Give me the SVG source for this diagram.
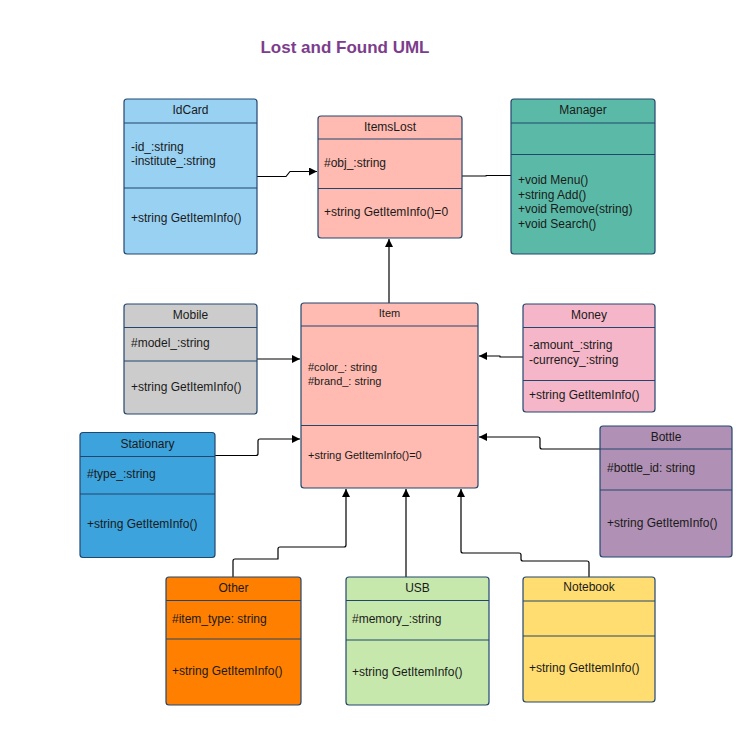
<svg xmlns="http://www.w3.org/2000/svg" width="756" height="743" viewBox="0 0 756 743">
<style>
.box{stroke:#23466f;stroke-width:1.2}
.div{stroke:#23466f;stroke-width:1.2}
text{font-family:"Liberation Sans",Arial,sans-serif;font-size:12px;fill:#1a1a1a}
.h{text-anchor:middle}
.s{font-size:11px}
.title{font-size:17px;font-weight:bold;fill:#7c3d8c;text-anchor:middle}
.c{fill:none;stroke:#000;stroke-width:1.2;stroke-linejoin:round}
</style>
<defs>
<marker id="arr" viewBox="0 0 10 10" refX="10" refY="5" markerWidth="10" markerHeight="8" markerUnits="userSpaceOnUse" orient="auto">
<path d="M0,0 L10,5 L0,10 Z" fill="#000"/>
</marker>
</defs>
<rect width="756" height="743" fill="#fff"/>
<text class="title" x="345" y="53">Lost and Found UML</text>

<g id="connectors">
<path class="c" d="M257,176.5 H286 L290,171.5 H317" marker-end="url(#arr)"/>
<path class="c" d="M462,176 H486 V175.5 H511"/>
<path class="c" d="M389,303 V239" marker-end="url(#arr)"/>
<path class="c" d="M257,359 H300" marker-end="url(#arr)"/>
<path class="c" d="M523,357 H500 V356 H479" marker-end="url(#arr)"/>
<path class="c" d="M600,449 H542 Q540,449 540,447 V439 Q540,437 538,437 H479" marker-end="url(#arr)"/>
<path class="c" d="M215,455.5 H256 Q258,455.5 258,453.5 V441 Q258,439 260,439 H300" marker-end="url(#arr)"/>
<path class="c" d="M233,577 V561 Q233,559 235,559 H278 V549 Q278,547 280,547 H344 Q346,547 346,545 V489" marker-end="url(#arr)"/>
<path class="c" d="M406,577 V489" marker-end="url(#arr)"/>
<path class="c" d="M589,577 V563 Q589,561 587,561 H523 Q521,561 521,559 V555 Q521,553 519,553 H463 Q461,553 461,551 V489" marker-end="url(#arr)"/>
</g>

<g id="IdCard">
<rect class="box" x="124" y="99" width="133" height="155" rx="3" fill="#99d1f3"/>
<line class="div" x1="124" y1="123" x2="257" y2="123"/>
<line class="div" x1="124" y1="188" x2="257" y2="188"/>
<text class="h" x="190.5" y="114">IdCard</text>
<text x="131" y="151">-id_:string</text>
<text x="131" y="165">-institute_:string</text>
<text x="131" y="222">+string GetItemInfo()</text>
</g>

<g id="ItemsLost">
<rect class="box" x="318" y="116" width="144" height="122" rx="3" fill="#ffbbb1"/>
<line class="div" x1="318" y1="139" x2="462" y2="139"/>
<line class="div" x1="318" y1="188.5" x2="462" y2="188.5"/>
<text class="h" x="390" y="131">ItemsLost</text>
<text x="324" y="167">#obj_:string</text>
<text x="324" y="216">+string GetItemInfo()=0</text>
</g>

<g id="Manager">
<rect class="box" x="511" y="99" width="144" height="155" rx="3" fill="#5bbaa7"/>
<line class="div" x1="511" y1="123" x2="655" y2="123"/>
<line class="div" x1="511" y1="154.5" x2="655" y2="154.5"/>
<text class="h" x="583" y="114">Manager</text>
<text x="518" y="184">+void Menu()</text>
<text x="518" y="198.5">+string Add()</text>
<text x="518" y="213">+void Remove(string)</text>
<text x="518" y="227.5">+void Search()</text>
</g>

<g id="Mobile">
<rect class="box" x="124" y="304" width="133" height="110" rx="3" fill="#cccccc"/>
<line class="div" x1="124" y1="327.5" x2="257" y2="327.5"/>
<line class="div" x1="124" y1="361" x2="257" y2="361"/>
<text class="h" x="190.5" y="319">Mobile</text>
<text x="131" y="347">#model_:string</text>
<text x="131" y="391">+string GetItemInfo()</text>
</g>

<g id="Item">
<rect class="box" x="301" y="303" width="177" height="185" rx="3" fill="#ffbbb1"/>
<line class="div" x1="301" y1="326" x2="478" y2="326"/>
<line class="div" x1="301" y1="425.5" x2="478" y2="425.5"/>
<text class="h s" x="389.5" y="317">Item</text>
<text class="s" x="308" y="371">#color_: string</text>
<text class="s" x="308" y="385">#brand_: string</text>
<text class="s" x="308" y="459">+string GetItemInfo()=0</text>
</g>

<g id="Money">
<rect class="box" x="523" y="304" width="132" height="108" rx="3" fill="#f4b6c8"/>
<line class="div" x1="523" y1="327.5" x2="655" y2="327.5"/>
<line class="div" x1="523" y1="380.5" x2="655" y2="380.5"/>
<text class="h" x="589" y="319">Money</text>
<text x="529" y="349">-amount_:string</text>
<text x="529" y="363.5">-currency_:string</text>
<text x="529" y="399">+string GetItemInfo()</text>
</g>

<g id="Bottle">
<rect class="box" x="600" y="426" width="132" height="131" rx="3" fill="#b090b4"/>
<line class="div" x1="600" y1="449" x2="732" y2="449"/>
<line class="div" x1="600" y1="490" x2="732" y2="490"/>
<text class="h" x="666" y="441">Bottle</text>
<text x="607" y="472">#bottle_id: string</text>
<text x="607" y="527">+string GetItemInfo()</text>
</g>

<g id="Stationary">
<rect class="box" x="80" y="432.5" width="135" height="125" rx="3" fill="#3ca3dc"/>
<line class="div" x1="80" y1="456.5" x2="215" y2="456.5"/>
<line class="div" x1="80" y1="494" x2="215" y2="494"/>
<text class="h" x="147.5" y="448">Stationary</text>
<text x="87" y="478">#type_:string</text>
<text x="87" y="528">+string GetItemInfo()</text>
</g>

<g id="Other">
<rect class="box" x="166" y="577" width="135" height="128" rx="3" fill="#ff8000"/>
<line class="div" x1="166" y1="600.5" x2="301" y2="600.5"/>
<line class="div" x1="166" y1="639" x2="301" y2="639"/>
<text class="h" x="233.5" y="592">Other</text>
<text x="172" y="623">#item_type: string</text>
<text x="172" y="675">+string GetItemInfo()</text>
</g>

<g id="USB">
<rect class="box" x="346" y="577" width="143" height="128" rx="3" fill="#c7e8ad"/>
<line class="div" x1="346" y1="600.5" x2="489" y2="600.5"/>
<line class="div" x1="346" y1="640" x2="489" y2="640"/>
<text class="h" x="417.5" y="592">USB</text>
<text x="352" y="623">#memory_:string</text>
<text x="352" y="676">+string GetItemInfo()</text>
</g>

<g id="Notebook">
<rect class="box" x="523" y="577" width="132" height="125" rx="3" fill="#ffdd71"/>
<line class="div" x1="523" y1="601" x2="655" y2="601"/>
<line class="div" x1="523" y1="636" x2="655" y2="636"/>
<text class="h" x="589" y="591">Notebook</text>
<text x="529" y="672">+string GetItemInfo()</text>
</g>
</svg>
